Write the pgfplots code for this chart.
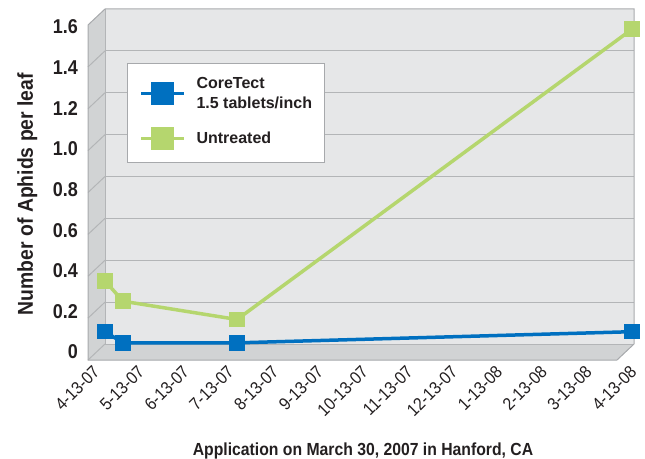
\documentclass[border=0pt]{standalone}
\usepackage{pgfplots}
\pgfplotsset{compat=1.18}
\usepackage{fontspec}
\setmainfont{Liberation Sans}
\newfontfamily\cf{Liberation Sans}[FakeStretch=0.9]
\definecolor{wallback}{HTML}{E6E7E8}
\definecolor{wallside}{HTML}{D1D3D4}
\definecolor{gridc}{HTML}{B3B5B7}
\definecolor{edgec}{HTML}{A7A9AC}
\definecolor{cblue}{HTML}{0070C0}
\definecolor{cgreen}{HTML}{B5D66E}
\definecolor{textc}{HTML}{231F20}
\begin{document}
\begin{tikzpicture}[x=1pt,y=1pt]
\useasboundingbox (0,0) rectangle (645,458);
% ---- 3D walls and floor (decor) ----
\begin{axis}[at={(105pt,114pt)}, anchor=south west, scale only axis,
  width=529pt, height=335pt, xmin=0, xmax=12, ymin=0, ymax=1.6,
  axis lines=none, clip=false]
\fill[wallback] (axis cs:0,0) rectangle (axis cs:12,1.6);
\fill[wallside] (axis cs:0,0) -- (axis cs:0,1.6) -- ([shift={(-17pt,-16pt)}]axis cs:0,1.6) -- ([shift={(-17pt,-16pt)}]axis cs:0,0) -- cycle;
\fill[wallside] (axis cs:0,0) -- (axis cs:12,0) -- ([shift={(-17pt,-16pt)}]axis cs:12,0) -- ([shift={(-17pt,-16pt)}]axis cs:0,0) -- cycle;
\pgfplotsinvokeforeach{0,0.2,0.4,0.6,0.8,1.0,1.2,1.4}{
  \draw[gridc, line width=1pt] (axis cs:0,#1) -- (axis cs:12,#1);
  \draw[gridc, line width=1pt] (axis cs:0,#1) -- ([shift={(-17pt,-16pt)}]axis cs:0,#1);
}
\draw[gridc, line width=1pt] (axis cs:0,0) -- (axis cs:0,1.6);
\draw[edgec, line width=1pt] ([shift={(-17pt,-16pt)}]axis cs:0,1.6) -- (axis cs:0,1.6) -- (axis cs:12,1.6) -- (axis cs:12,0)
  -- ([shift={(-17pt,-16pt)}]axis cs:12,0) -- ([shift={(-17pt,-16pt)}]axis cs:0,0) -- cycle;
\end{axis}
% ---- data axis ----
\begin{axis}[at={(80pt,106pt)}, anchor=south west, scale only axis,
  width=554.9pt, height=325pt, xmin=0, xmax=12.4, ymin=0, ymax=1.6,
  clip=false, axis line style={draw=none}, tick style={draw=none},
  /pgf/number format/assume math mode=true,
  xtick={0,1,2,3,4,5,6,7,8,9,10,11,12},
  xticklabels={4-13-07,5-13-07,6-13-07,7-13-07,8-13-07,9-13-07,10-13-07,11-13-07,12-13-07,1-13-08,2-13-08,3-13-08,4-13-08},
  xticklabel style={font=\cf\fontsize{17.5}{17.5}\selectfont, text=textc, rotate=45, anchor=north east, inner sep=0pt, yshift=-17pt},
  ytick={0,0.2,0.4,0.6,0.8,1.0,1.2,1.4,1.6},
  yticklabels={0,0.2,0.4,0.6,0.8,1.0,1.2,1.4,1.6},
  yticklabel style={font=\cf\bfseries\fontsize{20}{20}\selectfont, text=textc, anchor=east, inner sep=0pt, xshift=-2pt},
  xlabel={Application on March 30, 2007 in Hanford, CA},
  xlabel style={font=\cf\bfseries\fontsize{17.5}{18}\selectfont, text=textc, at={(axis description cs:0.51,-0.317)}, anchor=base},
  ylabel={Number of Aphids per leaf},
  ylabel style={font=\cf\bfseries\fontsize{21.5}{22}\selectfont, text=textc, at={(axis description cs:-0.0847,0.486)}, anchor=base, rotate=0},
  legend style={at={(axis description cs:0.0847,0.889)}, anchor=north west, draw=edgec, line width=1pt, fill=white,
    font=\bfseries\fontsize{16}{20}\selectfont, text=textc, cells={align=left, anchor=west},
    nodes={inner sep=0pt}, inner xsep=12pt, inner ysep=14pt, row sep=18pt, column sep=11pt},
  legend image code/.code={\draw[line width=3pt, mark size=10pt, mark repeat=2, mark phase=2] plot coordinates {(0pt,0pt)(21.5pt,0pt)(43pt,0pt)};},
]
\addplot[cblue, line width=3.5pt, mark=square*, mark size=6pt, mark options={draw=none, fill=cblue}]
  coordinates {(0.56,0.10)(0.96,0.045)(3.51,0.045)(12.34,0.10)};
\addlegendentry{CoreTect\\1.5 tablets/inch}
\addplot[cgreen, line width=3.5pt, mark=square*, mark size=6pt, mark options={draw=none, fill=cgreen}]
  coordinates {(0.56,0.35)(0.96,0.25)(3.51,0.16)(12.34,1.59)};
\addlegendentry{Untreated}
\end{axis}
\end{tikzpicture}
\end{document}
